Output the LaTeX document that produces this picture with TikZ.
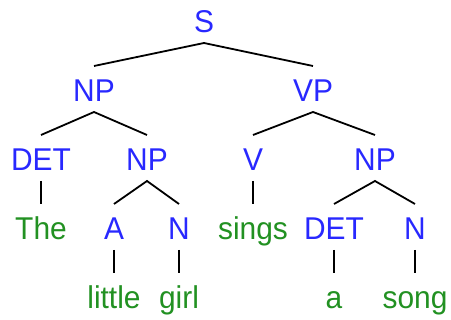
\documentclass[tikz,border=0pt]{standalone}
\usepackage{fontspec}
\setmainfont[FakeStretch=0.95]{Liberation Sans}
\definecolor{catblue}{RGB}{40,40,255}
\definecolor{wordgreen}{RGB}{34,145,34}
\begin{document}
\begin{tikzpicture}[x=1pt,y=-1pt,
  lab/.style={anchor=base,inner sep=0pt,font=\fontsize{31.5}{36}\selectfont},
  cat/.style={lab,text=catblue},
  word/.style={lab,text=wordgreen},
  edge/.style={draw=black,line width=1.8pt}]
\useasboundingbox (0,0) rectangle (451,320);
% row 1
\node[cat] (S) at (204,33) {S};
% row 2
\node[cat] (NPa) at (94,102) {NP};
\node[cat] (VP) at (313,102) {VP};
% row 3
\node[cat] (DETa) at (41,171) {DET};
\node[cat] (NPb) at (147,171) {NP};
\node[cat] (V) at (253,171) {V};
\node[cat] (NPc) at (375,171) {NP};
% row 4
\node[word] (The) at (41,240) {The};
\node[cat] (A) at (114,240) {A};
\node[cat] (Na) at (179,240) {N};
\node[word] (sings) at (253,240) {sings};
\node[cat] (DETb) at (334,240) {DET};
\node[cat] (Nb) at (415,240) {N};
% row 5
\node[word] (little) at (114,309) {little};
\node[word] (girl) at (179,309) {girl};
\node[word] (a) at (334,309) {a};
\node[word] (song) at (415,309) {song};
% edges
\draw[edge] ([yshift=36pt]NPa.base) -- ([yshift=-10pt]S.base) -- ([yshift=36pt]VP.base);
\draw[edge] ([yshift=36pt]DETa.base) -- ([yshift=-10pt]NPa.base) -- ([yshift=36pt]NPb.base);
\draw[edge] ([yshift=36pt]V.base) -- ([yshift=-10pt]VP.base) -- ([yshift=36pt]NPc.base);
\draw[edge] ([yshift=-10pt]DETa.base) -- ([yshift=36pt]The.base);
\draw[edge] ([yshift=36pt]A.base) -- ([yshift=-10pt]NPb.base) -- ([yshift=36pt]Na.base);
\draw[edge] ([yshift=-10pt]V.base) -- ([yshift=36pt]sings.base);
\draw[edge] ([yshift=36pt]DETb.base) -- ([yshift=-10pt]NPc.base) -- ([yshift=36pt]Nb.base);
\draw[edge] ([yshift=-10pt]A.base) -- ([yshift=36pt]little.base);
\draw[edge] ([yshift=-10pt]Na.base) -- ([yshift=36pt]girl.base);
\draw[edge] ([yshift=-10pt]DETb.base) -- ([yshift=36pt]a.base);
\draw[edge] ([yshift=-10pt]Nb.base) -- ([yshift=36pt]song.base);
\end{tikzpicture}
\end{document}
